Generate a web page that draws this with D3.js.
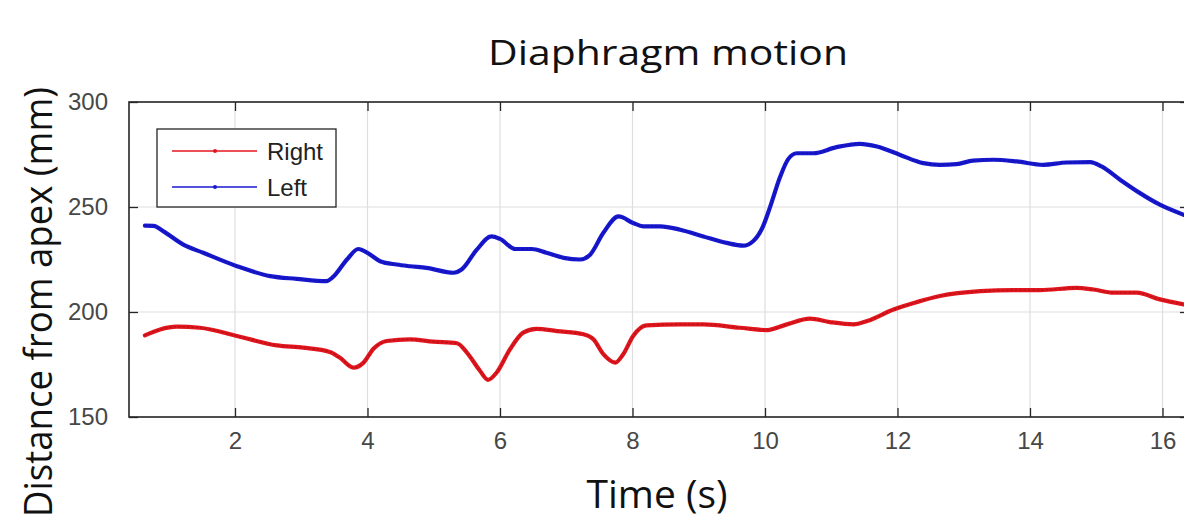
<!DOCTYPE html>
<html>
<head>
    <title>Diaphragm motion</title>
    <meta charset="utf-8">
    <style>
        body { margin: 0; background: #fff; }
        .tick text { font-family: "Liberation Sans", Arial, sans-serif; fill: #474747; }
        .grid line { stroke: #dedede; stroke-width: 1.2px; }
        path.line { fill: none; stroke-linejoin: round; stroke-linecap: round; }
    </style>
    <script src="https://d3js.org/d3.v7.min.js"></script>
</head>
<body>
    <div id="graph"></div>
    <script>
        // Right diaphragm (red)
        var rightTime = [0.64, 0.87, 1.12, 1.47, 2.03, 2.63, 3.03, 3.43, 3.58, 3.79, 3.94, 4.09, 4.29, 4.64,
            4.99, 5.35, 5.50, 5.70, 5.82, 5.95, 6.15, 6.35, 6.55, 6.86, 7.26, 7.41, 7.56, 7.74, 7.86, 8.01,
            8.21, 8.72, 9.07, 9.62, 10.03, 10.33, 10.68, 10.98, 11.34, 11.54, 11.94, 12.29, 12.64, 13.25,
            13.75, 14.15, 14.70, 14.96, 15.26, 15.61, 15.96, 16.32];
        var rightDist = [188.9, 191.7, 193.0, 192.5, 188.6, 184.1, 183.0, 181.0, 178.3, 173.5, 175.9, 182.5, 186.2, 187.0,
            185.9, 185.1, 180.7, 171.9, 167.7, 171.2, 182.2, 190.2, 192.0, 190.9, 189.4, 187.0, 179.9, 175.9, 179.9, 188.6,
            193.6, 194.1, 194.1, 192.5, 191.4, 194.1, 196.8, 195.2, 194.1, 195.7, 201.2, 204.7, 207.6, 209.9,
            210.4, 210.4, 211.5, 210.7, 209.2, 209.2, 206.0, 203.6];

        // Left diaphragm (blue)
        var leftTime = [0.64, 0.77, 0.92, 1.22, 1.52, 2.03, 2.53, 2.93, 3.38, 3.48, 3.69, 3.86, 4.04, 4.19, 4.44,
            4.64, 4.89, 5.30, 5.42, 5.65, 5.87, 6.00, 6.23, 6.48, 6.70, 6.96, 7.21, 7.36, 7.56, 7.79, 8.01,
            8.16, 8.42, 8.72, 9.07, 9.42, 9.67, 9.82, 9.97, 10.08, 10.23, 10.35, 10.48, 10.73, 11.08, 11.43,
            11.69, 12.04, 12.39, 12.64, 12.89, 13.14, 13.45, 13.80, 14.20, 14.55, 14.91, 15.08, 15.36, 15.66,
            15.96, 16.32];
        var leftDist = [241.1, 241.0, 238.4, 232.1, 228.2, 221.8, 217.1, 215.8, 214.7, 216.7, 225.0, 230.0, 227.3, 224.2, 222.6,
            221.8, 221.0, 218.7, 220.2, 229.7, 236.0, 234.8, 230.0, 230.0, 228.2, 225.8, 225.0, 227.3, 237.7, 245.5, 242.4,
            240.8, 240.8, 239.2, 236.0, 232.9, 231.6, 233.7, 240.8, 250.3, 264.5, 272.8, 275.6, 275.6, 278.5, 280.1,
            278.8, 274.8, 270.9, 270.1, 270.4, 272.1, 272.5, 271.7, 270.1, 271.2, 271.4, 269.3, 263.0, 256.6,
            251.1, 246.3];

        var xTicks = [2, 4, 6, 8, 10, 12, 14, 16];
        var yTicks = [150, 200, 250, 300];
        var seriesNames = ["Right", "Left"];
        var seriesColors = ["#e3161e", "#1818d2"];

        var W = 1184, H = 523;
        var margin = { top: 102, right: -5, bottom: 106, left: 129 };
        var width = W - margin.left - margin.right;
        var height = H - margin.top - margin.bottom;

        var root = d3.select("#graph").append("svg")
            .attr("width", W)
            .attr("height", H);

        var svg = root.append("g")
            .attr("transform", "translate(" + margin.left + "," + margin.top + ")");

        var x = d3.scaleLinear().domain([0.4, 16.4]).range([0, width]);
        var y = d3.scaleLinear().domain([150, 300]).range([height, 0]);

        svg.append("clipPath")
            .attr("id", "clip")
            .append("rect")
            .attr("width", width)
            .attr("height", height);

        // grid
        svg.append("g")
            .attr("class", "grid")
            .selectAll("line")
            .data(xTicks)
            .enter().append("line")
            .attr("x1", function(d) { return x(d); })
            .attr("x2", function(d) { return x(d); })
            .attr("y1", 0)
            .attr("y2", height);
        svg.append("g")
            .attr("class", "grid")
            .selectAll("line")
            .data(yTicks)
            .enter().append("line")
            .attr("x1", 0)
            .attr("x2", width)
            .attr("y1", function(d) { return y(d); })
            .attr("y2", function(d) { return y(d); });

        // axes: labels outside, ticks inside (matlab style)
        var tickLen = 9;
        var xAxis = d3.axisBottom(x).tickValues(xTicks).tickSize(-tickLen).tickPadding(25);
        var yAxis = d3.axisLeft(y).tickValues(yTicks).tickSize(-tickLen).tickPadding(21);

        var gx = svg.append("g")
            .attr("class", "x axis")
            .attr("transform", "translate(0," + height + ")")
            .call(xAxis);
        var gy = svg.append("g")
            .attr("class", "y axis")
            .call(yAxis);
        svg.append("g")
            .call(d3.axisTop(x).tickValues(xTicks).tickSize(-tickLen).tickFormat(""));
        svg.append("g")
            .attr("transform", "translate(" + width + ",0)")
            .call(d3.axisRight(y).tickValues(yTicks).tickSize(-tickLen).tickFormat(""));

        svg.selectAll(".tick line").attr("stroke", "#262626").attr("stroke-width", 1.3);
        svg.selectAll(".domain").remove();
        gx.selectAll("text").attr("font-size", 24).attr("dy", "0.3em");
        gy.selectAll("text").attr("font-size", 24);

        // frame
        svg.append("rect")
            .attr("width", width)
            .attr("height", height)
            .attr("fill", "none")
            .attr("stroke", "#262626")
            .attr("stroke-width", 1.6);

        var line = d3.line()
            .curve(d3.curveMonotoneX)
            .x(function(d) { return x(d.t); })
            .y(function(d) { return y(d.v); });

        var series = [
            rightTime.map(function(t, i) { return { t: t, v: rightDist[i] }; }),
            leftTime.map(function(t, i) { return { t: t, v: leftDist[i] }; })
        ];

        series.forEach(function(s, i) {
            svg.append("path")
                .datum(s)
                .attr("class", "line")
                .attr("clip-path", "url(#clip)")
                .style("stroke", seriesColors[i])
                .style("stroke-width", 4.2)
                .attr("d", line);
            // dense dot markers look
            svg.append("path")
                .datum(s)
                .attr("class", "line")
                .attr("clip-path", "url(#clip)")
                .style("stroke", i == 0 ? "#8a1015" : "#0c0c80")
                .style("stroke-width", 1.6)
                .style("stroke-dasharray", "1.2,3.2")
                .style("opacity", 0.45)
                .attr("d", line);
        });

        // legend
        var lg = root.append("g").attr("transform", "translate(157,129)");
        lg.append("rect")
            .attr("width", 179)
            .attr("height", 78)
            .attr("fill", "#fff")
            .attr("stroke", "#262626")
            .attr("stroke-width", 1.3);
        seriesNames.forEach(function(name, i) {
            var ly = 22 + i * 36;
            lg.append("line")
                .attr("x1", 15).attr("x2", 100)
                .attr("y1", ly).attr("y2", ly)
                .attr("stroke", seriesColors[i])
                .attr("stroke-width", 1.6);
            lg.append("circle")
                .attr("cx", 58).attr("cy", ly).attr("r", 2)
                .attr("fill", seriesColors[i]);
            lg.append("text")
                .attr("x", 110).attr("y", ly)
                .attr("dy", "0.36em")
                .attr("font-family", "Liberation Sans, Arial, sans-serif")
                .attr("font-size", 24)
                .attr("fill", "#222")
                .text(name);
        });

        // titles
        root.append("text")
            .attr("x", 668).attr("y", 65)
            .attr("text-anchor", "middle")
            .attr("font-family", "Open Sans, sans-serif")
            .attr("font-size", 35)
            .attr("textLength", 360)
            .attr("lengthAdjust", "spacingAndGlyphs")
            .attr("fill", "#111")
            .text("Diaphragm motion");

        root.append("text")
            .attr("x", 657).attr("y", 508)
            .attr("text-anchor", "middle")
            .attr("font-family", "Open Sans, sans-serif")
            .attr("font-size", 39)
            .attr("fill", "#111")
            .text("Time (s)");

        root.append("text")
            .attr("transform", "translate(52,302) rotate(-90)")
            .attr("text-anchor", "middle")
            .attr("font-family", "Open Sans, sans-serif")
            .attr("font-size", 38)
            .attr("textLength", 430)
            .attr("lengthAdjust", "spacingAndGlyphs")
            .attr("fill", "#111")
            .text("Distance from apex (mm)");
    </script>
</body>
</html>
